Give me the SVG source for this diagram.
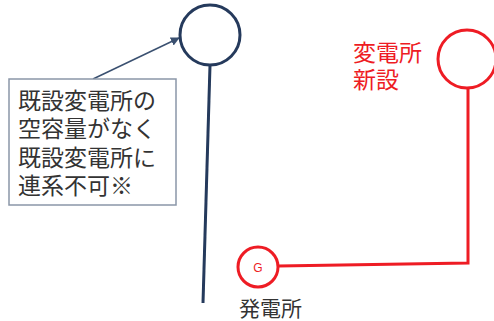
<svg xmlns="http://www.w3.org/2000/svg" width="494" height="321" viewBox="0 0 494 321">
  <defs>
    <style>
      .jp { font-family: "Noto Sans CJK JP", "Noto Sans CJK SC", sans-serif; }
      .navy { stroke: #253a5c; fill: none; stroke-width: 3; }
      .red { stroke: #ee1c24; fill: none; stroke-width: 3; }
      .boxtxt { font-size: 23px; fill: #333333; }
      .redtxt { font-size: 23px; fill: #ee1c24; }
    </style>
    <marker id="arr" viewBox="0 0 10 10" refX="9" refY="5" markerWidth="9" markerHeight="9" markerUnits="userSpaceOnUse" orient="auto">
      <path d="M0,0 L10,5 L0,10 z" fill="#3a5070"/>
    </marker>
  </defs>
  <rect width="494" height="321" fill="#ffffff"/>

  <g id="connectors">
    <line x1="210" y1="65" x2="203" y2="303" class="navy"/>
    <polyline points="278,266 468,263 468,88" class="red"/>
    <line x1="93" y1="79" x2="179" y2="38" stroke="#3a5070" stroke-width="1.5" marker-end="url(#arr)"/>
  </g>

  <g id="existing-substation">
    <circle cx="210" cy="35" r="30" class="navy"/>
  </g>

  <g id="note-box">
    <rect x="9" y="79" width="167" height="126" fill="#ffffff" stroke="#8a96a8" stroke-width="1.5"/>
    <text class="jp boxtxt" x="18" y="109">既設変電所の</text>
    <text class="jp boxtxt" x="18" y="137">空容量がなく</text>
    <text class="jp boxtxt" x="18" y="166">既設変電所に</text>
    <text class="jp boxtxt" x="18" y="194">連系不可※</text>
  </g>

  <g id="new-substation">
    <circle cx="467" cy="59" r="29" class="red"/>
    <text class="jp redtxt" x="353" y="61">変電所</text>
    <text class="jp redtxt" x="353" y="88">新設</text>
  </g>

  <g id="power-plant">
    <circle cx="258" cy="267" r="20" class="red"/>
    <text x="258" y="272" text-anchor="middle" font-family="Liberation Sans, Arial, sans-serif" font-size="12" fill="#ee1c24">G</text>
    <text class="jp" x="239" y="316" font-size="21" fill="#333333">発電所</text>
  </g>
</svg>
